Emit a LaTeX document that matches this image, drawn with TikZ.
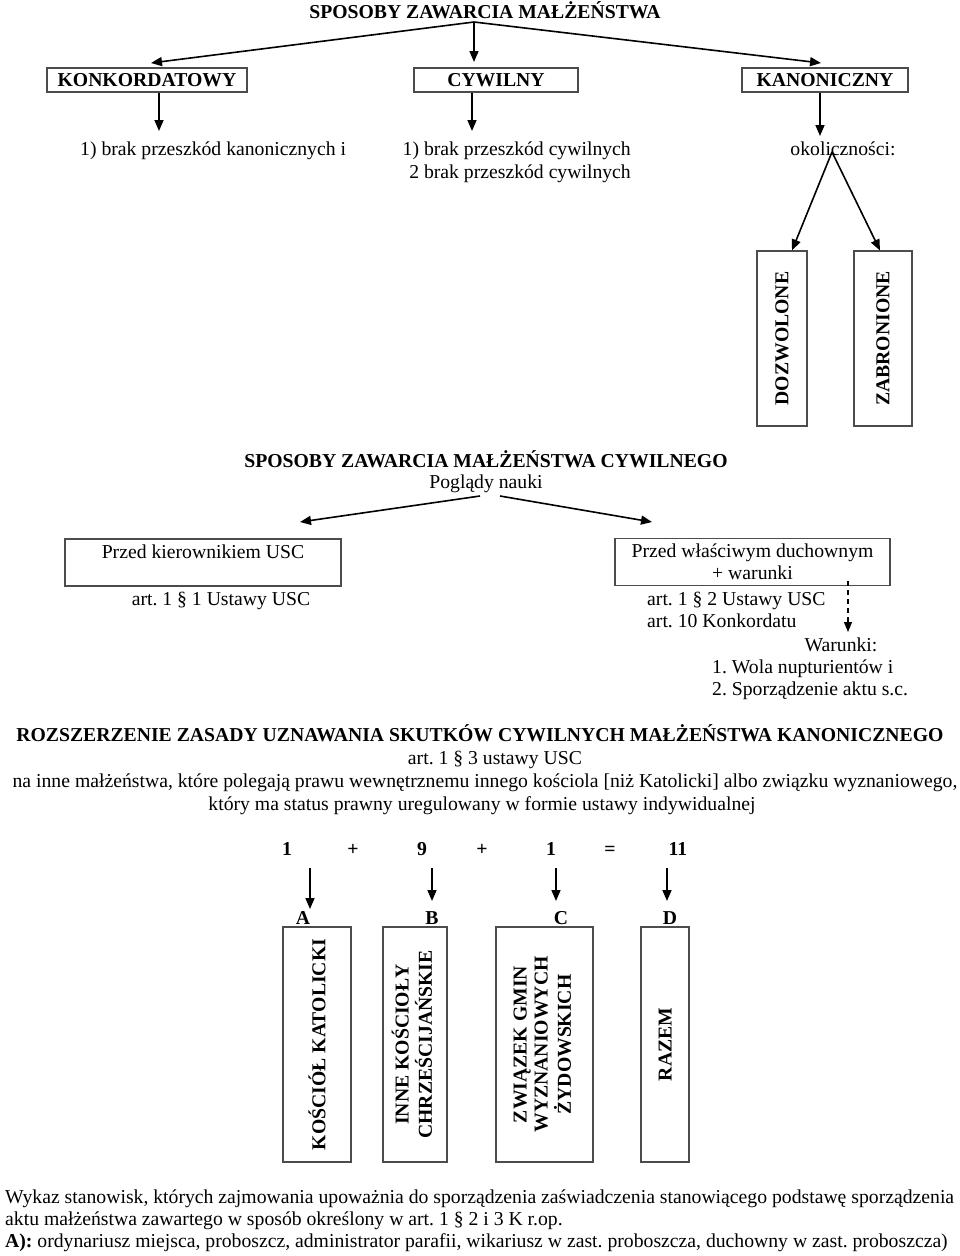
\documentclass[tikz,border=0pt]{standalone}
\usepackage{fontspec}
\setmainfont{Liberation Serif}
\usepackage{graphicx}
\usetikzlibrary{arrows.meta}
\frenchspacing
\begin{document}
\begin{tikzpicture}[x=1pt,y=-1pt,
  font=\fontsize{19.7}{22}\selectfont,
  bf/.style={font=\fontsize{19.7}{22}\selectfont\bfseries, inner sep=0pt},
  txt/.style={inner sep=0pt},
  box/.style={draw=black!70, line width=1.1pt, inner sep=0pt},
  arr/.style={-{Triangle[length=11pt,width=9pt]}, line width=1.6pt},
  dsh/.style={-{Triangle[length=10pt,width=8pt]}, line width=1.3pt, dash pattern=on 5pt off 4pt}]
\useasboundingbox (0,0) rectangle (960,1256);

% ---------- top part ----------
\node[bf, anchor=base] (t1) at (485,18) {SPOSOBY ZAWARCIA MAŁŻEŃSTWA};
\coordinate (apex1) at (474,22);
\node[box, bf, minimum width=200pt, minimum height=24pt] (konk) at (147,80) {KONKORDATOWY};
\node[box, bf, minimum width=164pt, minimum height=24pt] (cyw) at (496,80) {CYWILNY};
\node[box, bf, minimum width=166pt, minimum height=24pt] (kan) at (825,80) {KANONICZNY};
\coordinate (ka) at (151,63);
\coordinate (ca) at (474,62);
\coordinate (na) at (821,63);
\draw[arr] (apex1) -- (ka);
\draw[arr] (apex1) -- (ca);
\draw[arr] (apex1) -- (na);

\coordinate (kd) at (159,131);
\coordinate (cd) at (472,131);
\coordinate (nd) at (820,136);
\draw[arr] (konk.south -| kd) -- (kd);
\draw[arr] (cyw.south -| cd) -- (cd);
\draw[arr] (kan.south -| nd) -- (nd);

\node[txt, anchor=base west] (konkt) at (80,155) {1) brak przeszkód kanonicznych i};
\node[txt, anchor=base east] (cywt1) at (631,155) {1) brak przeszkód cywilnych};
\node[txt, anchor=base east] (cywt2) at (631,178) {2 brak przeszkód cywilnych};
\node[txt, anchor=base] (okol) at (843,155) {okoliczności:};

\node[box, bf, minimum width=50pt, minimum height=175pt] (dozw) at (782,338.5) {\rotatebox{90}{DOZWOLONE}};
\node[box, bf, minimum width=58pt, minimum height=175pt] (zabr) at (883,338.5) {\rotatebox{90}{ZABRONIONE}};
\coordinate (apex2) at (832,152);
\draw[arr] (apex2) -- (dozw.north -| 792,0);
\draw[arr] (apex2) -- (zabr.north -| 880,0);

% ---------- civil part ----------
\node[bf, anchor=base] (t2) at (486,467) {SPOSOBY ZAWARCIA MAŁŻEŃSTWA CYWILNEGO};
\node[txt, anchor=base] (pog) at (486,488) {Poglądy nauki};
\coordinate (pl) at (480,496);
\coordinate (pr) at (500,496);
\coordinate (pla) at (300,522);
\coordinate (pra) at (652,522);
\draw[arr] (pl) -- (pla);
\draw[arr] (pr) -- (pra);

\node[box, align=center, minimum width=276pt, minimum height=47pt] (lbox) at (203,562.5) {Przed kierownikiem USC\\\mbox{}};
\node[box, align=center, minimum width=275pt, minimum height=47pt] (rbox) at (752.5,562) {Przed właściwym duchownym\\+ warunki};
\node[txt, anchor=base] (art1) at (221,605) {art. 1 § 1 Ustawy USC};
\node[txt, anchor=base west] (art2) at (647,605) {art. 1 § 2 Ustawy USC};
\node[txt, anchor=base west] (art10) at (647,627) {art. 10 Konkordatu};
\coordinate (ds) at (848,581);
\coordinate (de) at (848,632);
\draw[dsh] (ds) -- (de);
\node[txt, anchor=base] (war) at (841,651) {Warunki:};
\node[txt, anchor=base west] (wl1) at (712,673) {1. Wola nupturientów i};
\node[txt, anchor=base west] (wl2) at (712,695) {2. Sporządzenie aktu s.c.};

% ---------- extension part ----------
\node[bf, anchor=base] (t3) at (480,741) {ROZSZERZENIE ZASADY UZNAWANIA SKUTKÓW CYWILNYCH MAŁŻEŃSTWA KANONICZNEGO};
\node[txt, anchor=base] (art3) at (495,764) {art. 1 § 3 ustawy USC};
\node[txt, anchor=base] (na1) at (485,787) {na inne małżeństwa, które polegają prawu wewnętrznemu innego kościola [niż Katolicki] albo związku wyznaniowego,};
\node[txt, anchor=base] (na2) at (482,810) {który ma status prawny uregulowany w formie ustawy indywidualnej};

\node[bf, anchor=base] (n1) at (287,855) {1};
\node[bf, anchor=base] (p1) at (353,855) {+};
\node[bf, anchor=base] (n9) at (422,855) {9};
\node[bf, anchor=base] (p2) at (482,855) {+};
\node[bf, anchor=base] (n1b) at (551,855) {1};
\node[bf, anchor=base] (eq) at (610,855) {=};
\node[bf, anchor=base] (n11) at (678,855) {11};

\coordinate (as) at (310,868); \coordinate (ae) at (310,909);
\coordinate (bs) at (432,868); \coordinate (be) at (432,901);
\coordinate (cs) at (556,868); \coordinate (ce) at (556,901);
\coordinate (dss) at (667,868); \coordinate (dse) at (667,901);
\draw[arr] (as) -- (ae);
\draw[arr] (bs) -- (be);
\draw[arr] (cs) -- (ce);
\draw[arr] (dss) -- (dse);

\node[bf, anchor=base] (la) at (303,924) {A};
\node[bf, anchor=base] (lb) at (432,924) {B};
\node[bf, anchor=base] (lc) at (561,924) {C};
\node[bf, anchor=base] (ld) at (670,924) {D};

\node[box, bf, minimum width=68pt, minimum height=235pt] (ba) at (317,1044.5) {\rotatebox{90}{KOŚCIÓŁ KATOLICKI}};
\node[box, bf, minimum width=64pt, minimum height=235pt] (bb) at (415,1044.5) {\rotatebox{90}{\fontsize{19.7}{21}\selectfont\begin{tabular}{@{}c@{}}INNE KOŚCIOŁY\\CHRZEŚCIJAŃSKIE\end{tabular}}};
\node[box, bf, minimum width=97pt, minimum height=235pt] (bc) at (544.5,1044.5) {\rotatebox{90}{\fontsize{19.7}{21}\selectfont\begin{tabular}{@{}c@{}}ZWIĄZEK GMIN\\WYZNANIOWYCH\\ŻYDOWSKICH\end{tabular}}};
\node[box, bf, minimum width=48pt, minimum height=235pt] (bd) at (665,1044.5) {\rotatebox{90}{RAZEM}};

% ---------- bottom text ----------
\node[txt, anchor=base west] (wyk1) at (5,1203) {Wykaz stanowisk, których zajmowania upoważnia do sporządzenia zaświadczenia stanowiącego podstawę sporządzenia};
\node[txt, anchor=base west] (wyk2) at (5,1225) {aktu małżeństwa zawartego w sposób określony w art. 1 § 2 i 3 K r.op.};
\node[txt, anchor=base west] (wyk3) at (5,1247) {\textbf{A):} ordynariusz miejsca, proboszcz, administrator parafii, wikariusz w zast. proboszcza, duchowny w zast. proboszcza)};
\end{tikzpicture}
\end{document}
